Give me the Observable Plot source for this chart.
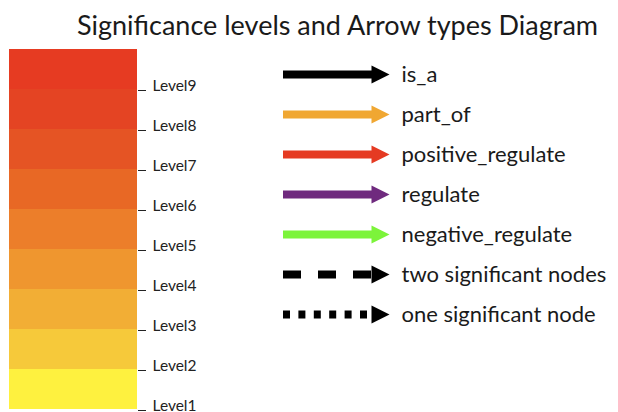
<!DOCTYPE html>
<html>
<head>
<meta charset="utf-8">
<script src="https://cdn.jsdelivr.net/npm/d3@7"></script>
<script src="https://cdn.jsdelivr.net/npm/@observablehq/plot@0.6"></script>
<style>
  html, body { margin: 0; padding: 0; background: #fff; }
  #wrap { position: relative; width: 618px; height: 412px; overflow: hidden; font-family: Lato, "Open Sans", sans-serif; }
  #title { position: absolute; left: 0; top: 0; width: 618px; height: 45px; }
  #title span { position: absolute; left: 77px; top: 11px; font-size: 27px; color: #1a1a1a; white-space: nowrap; line-height: 1; }
  #left { position: absolute; left: 0; top: 45px; }
  #right { position: absolute; left: 270px; top: 45px; }
</style>
</head>
<body>
<div id="wrap">
  <div id="title"><span>Significance levels and Arrow types Diagram</span></div>
  <div id="left"></div>
  <div id="right"></div>
</div>
<script>
const levels = ["Level1", "Level2", "Level3", "Level4", "Level5", "Level6", "Level7", "Level8", "Level9"];
const levelColors = ["#FEF13F", "#F6C93A", "#F2AE35", "#EF962F", "#EC7E2A", "#E86825", "#E55424", "#E44423", "#E63B22"];

const arrowTypes = ["is_a", "part_of", "positive_regulate", "regulate", "negative_regulate", "two significant nodes", "one significant node"];
const arrowColors = ["#000000", "#F0A732", "#E53A22", "#6F2A7E", "#7CF43A", "#000000", "#000000"];
const arrowStyles = ["solid", "solid", "solid", "solid", "solid", "dashed", "dotted"];

const rows = arrowTypes.map((type, i) => ({type, color: arrowColors[i], style: arrowStyles[i]}));

const arrowHead = {
  draw(context, size) {
    const r = Math.sqrt(size / Math.PI);
    context.moveTo(0, 0);
    context.lineTo(-2 * r, -r);
    context.lineTo(-2 * r, r);
    context.closePath();
  }
};

const left = Plot.plot({
  width: 270,
  height: 367,
  marginTop: 4,
  marginBottom: 3,
  marginLeft: 9,
  marginRight: 133,
  x: {domain: [0, 1], axis: null},
  y: {domain: [0, 9]},
  color: {type: "identity"},
  style: {fontFamily: "Lato, 'Open Sans', sans-serif", background: "transparent"},
  marks: [
    Plot.rect(levels, {x1: 0, x2: 1, y1: (d, i) => i, y2: (d, i) => i + 1, fill: (d, i) => levelColors[i]}),
    Plot.axisY({
      anchor: "right",
      ticks: d3.range(levels.length),
      tickFormat: (t) => levels[t],
      tickSize: 8,
      tickPadding: 7,
      fontSize: 15.5,
      lineAnchor: "bottom",
      dy: 1,
      stroke: "#222",
      fill: "#222",
      label: null
    })
  ]
});
document.getElementById("left").appendChild(left);

const common = {y: "type", stroke: "color", strokeWidth: 8};
const right = Plot.plot({
  width: 348,
  height: 367,
  marginTop: 28,
  marginBottom: 98,
  marginLeft: 13,
  marginRight: 229,
  x: {domain: [0, 1], axis: null},
  y: {type: "point", domain: arrowTypes, padding: 0, axis: null},
  color: {type: "identity"},
  style: {fontFamily: "Lato, 'Open Sans', sans-serif", background: "transparent", overflow: "visible"},
  marks: [
    Plot.ruleY(rows.filter(d => d.style === "solid"), {...common, x1: 0, x2: 0.84}),
    Plot.ruleY(rows.filter(d => d.style === "dashed"), {...common, x1: 0, x2: 0.84, strokeDasharray: "18,17"}),
    Plot.ruleY(rows.filter(d => d.style === "dotted"), {...common, x1: 0, x2: 0.84, strokeDasharray: "7,8.4"}),
    Plot.dot(rows, {x: () => 1, y: "type", symbol: arrowHead, r: 9, fill: "color", stroke: null}),
    Plot.text(rows, {x: () => 1, y: "type", text: "type", dx: 12, textAnchor: "start", fontSize: 22, fill: "#1a1a1a"})
  ]
});
document.getElementById("right").appendChild(right);
</script>
</body>
</html>
